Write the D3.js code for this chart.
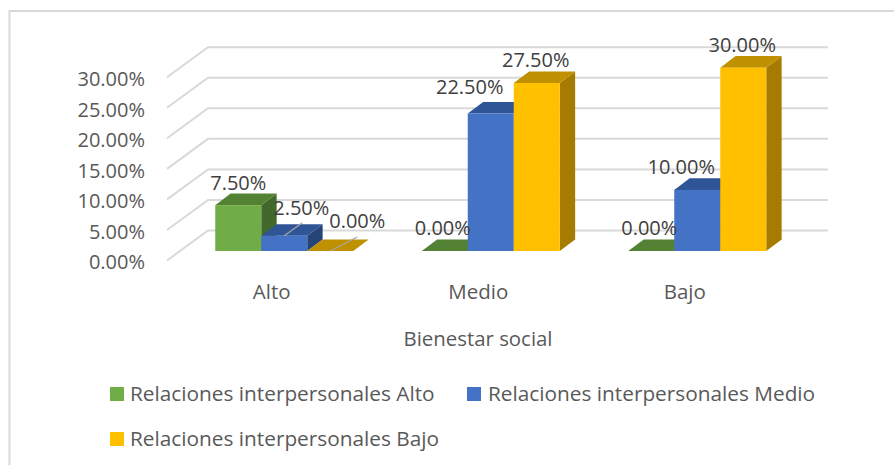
<!DOCTYPE html>
<html>
<head>
<meta charset="utf-8">
<script src="https://cdn.jsdelivr.net/npm/d3@7"></script>
<style>
html,body{margin:0;padding:0;background:#fff;overflow:hidden}
text{font-family:"Open Sans",sans-serif}
</style>
</head>
<body>
<svg id="chart" width="894" height="465"></svg>
<script>
const categories = ["Alto", "Medio", "Bajo"];
const seriesNames = ["Relaciones interpersonales Alto", "Relaciones interpersonales Medio", "Relaciones interpersonales Bajo"];
const altoValues = [7.5, 0, 0];
const medioValues = [2.5, 22.5, 10];
const bajoValues = [0, 27.5, 30];
const tickValues = [0, 5, 10, 15, 20, 25, 30];
const axisTitle = "Bienestar social";

const seriesValues = [altoValues, medioValues, bajoValues];
const faces = [
  {front: "#70ad47", top: "#548235", side: "#43682b"},
  {front: "#4472c4", top: "#2f5597", side: "#264478"},
  {front: "#ffc000", top: "#bf9000", side: "#a67c00"}
];
// manual label placement, [dx, dy] from the top-centre of each bar: series, then category
const labelNudges = [
  [[0, -15], [-2, -16], [-2, -16]],
  [[17, -21], [-21, -19.5], [-16, -16]],
  [[27, -23], [-1, -16], [-1, -16]]
];
const leaders = {"1-0": [18, -13], "2-0": [27, -14]};

const svg = d3.select("#chart");
const fmt = v => v.toFixed(2) + "%";

const depthX = 15.4, depthY = 11.6;
const wallX = 41, wallY = 30, wallLift = 20.5;
const labelShift = -12.5;

const y = d3.scaleLinear().domain([0, 30]).range([251, 67.7]);
const x0 = d3.scaleBand().domain(categories).range([181, 800.5]);
const barW = 46;
const barX = (ci, si) => x0(categories[ci]) + (x0.bandwidth() - 3 * barW) / 2 + si * barW;

// chart frame
svg.append("path").attr("d", "M9.5,465V11H894").attr("fill", "none").attr("stroke", "#d9d9d9").attr("stroke-width", 2);

// walls
const grid = svg.append("g").attr("fill", "none").attr("stroke", "#d9d9d9").attr("stroke-width", 2);
tickValues.forEach(t => {
  const wy = y(t) - wallLift;
  grid.append("path").attr("d", `M${208 - wallX},${wy + wallY}L208,${wy}L828,${wy}`);
});

// value axis
const axis = d3.axisLeft(y).tickValues(tickValues).tickSize(0).tickPadding(0).tickFormat(fmt);
const axisG = svg.append("g").attr("transform", `translate(145,${wallY - wallLift + 2})`).call(axis);
axisG.select(".domain").remove();
axisG.selectAll("text").attr("font-size", 20).attr("fill", "#595959").style("font-family", '"Open Sans",sans-serif');

// bars
const bars = svg.append("g");
seriesValues.forEach((vals, si) => {
  vals.forEach((v, ci) => {
    const l = barX(ci, si), r = l + barW, t = y(v), b = y(0), c = faces[si];
    const g = bars.append("g");
    if (v > 0) g.append("path").attr("d", `M${r},${t}L${r + depthX},${t - depthY}L${r + depthX},${b - depthY}L${r},${b}Z`).attr("fill", c.side);
    g.append("path").attr("d", `M${l},${t}L${l + depthX},${t - depthY}L${r + depthX},${t - depthY}L${r},${t}Z`).attr("fill", c.top);
    if (v > 0) g.append("rect").attr("x", l).attr("y", t).attr("width", barW).attr("height", b - t).attr("fill", c.front);
  });
});

// leader lines and data labels
const labels = svg.append("g");
seriesValues.forEach((vals, si) => {
  vals.forEach((v, ci) => {
    const lead = leaders[`${si}-${ci}`];
    if (lead) {
      const cx = barX(ci, si) + barW / 2, t = y(v);
      labels.append("line").attr("x1", cx).attr("y1", t).attr("x2", cx + lead[0]).attr("y2", t + lead[1])
        .attr("stroke", "#a6a6a6").attr("stroke-width", 1.3);
    }
  });
});
seriesValues.forEach((vals, si) => {
  vals.forEach((v, ci) => {
    const cx = barX(ci, si) + barW / 2, t = y(v), [dx, dy] = labelNudges[si][ci];
    labels.append("text").attr("x", cx + dx).attr("y", t + dy).attr("text-anchor", "middle")
      .attr("font-size", 20).attr("fill", "#404040").text(fmt(v));
  });
});

// category labels
svg.append("g").selectAll("text").data(categories).join("text")
  .attr("x", d => x0(d) + x0.bandwidth() / 2 + labelShift)
  .attr("y", 299).attr("text-anchor", "middle").attr("font-size", 20.5).attr("fill", "#595959").text(d => d);

svg.append("text").attr("x", 478).attr("y", 346).attr("text-anchor", "middle")
  .attr("font-size", 20.4).attr("fill", "#595959").text(axisTitle);

// legend
const legendPos = [[110, 387, 130], [467, 387, 488], [110, 432, 130]];
seriesNames.forEach((n, i) => {
  const [sx, sy, tx] = legendPos[i];
  svg.append("rect").attr("x", sx).attr("y", sy).attr("width", 14).attr("height", 14).attr("fill", faces[i].front);
  svg.append("text").attr("x", tx).attr("y", sy + 14).attr("font-size", 20.8).attr("fill", "#595959").text(n);
});
</script>
</body>
</html>
